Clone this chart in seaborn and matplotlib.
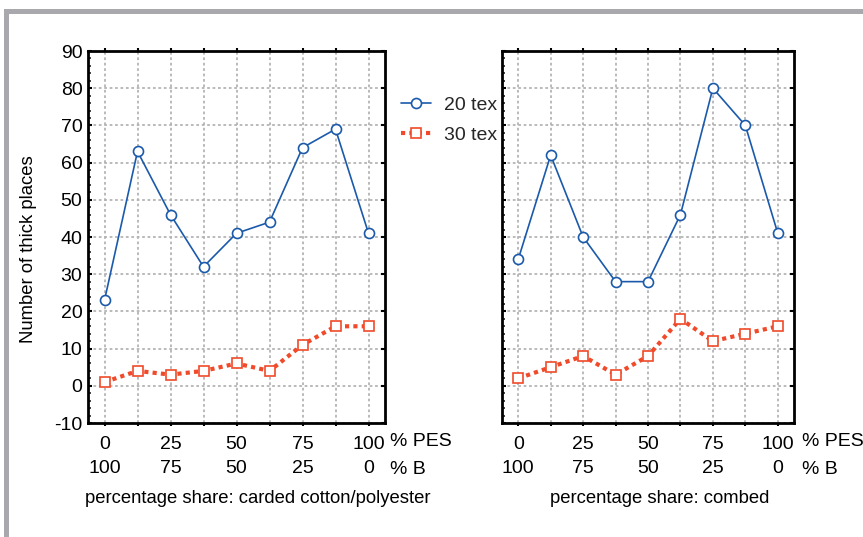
import matplotlib
matplotlib.use("Agg")
import matplotlib.pyplot as plt
import seaborn as sns
import numpy as np
from matplotlib.patches import Rectangle
from matplotlib.ticker import MultipleLocator

sns.set_theme(style="white")
plt.rcParams['font.family'] = ['Liberation Sans', 'DejaVu Sans']
plt.rcParams['axes.unicode_minus'] = False

# ---- data ----
positions = [0, 1, 2, 3, 4, 5, 6, 7, 8]
pes_labels = ["0", "", "25", "", "50", "", "75", "", "100"]
b_labels = ["100", "", "75", "", "50", "", "25", "", "0"]
carded_20tex = [23, 63, 46, 32, 41, 44, 64, 69, 41]
carded_30tex = [1, 4, 3, 4, 6, 4, 11, 16, 16]
combed_20tex = [34, 62, 40, 28, 28, 46, 80, 70, 41]
combed_30tex = [2, 5, 8, 3, 8, 18, 12, 14, 16]
series_names = ["20 tex", "30 tex"]
panel_titles = ["percentage share: carded cotton/polyester", "percentage share: combed"]

BLUE = "#1b5aab"
RED = "#f04a2a"
GRID = "#b4b4b4"

W, H = 863, 537
fig = plt.figure(figsize=(W / 100, H / 100), dpi=100)

def fx(px):
    return px / W

def fy(py):
    return 1 - py / H

ax1 = fig.add_axes([fx(88), fy(423), fx(385 - 88), (423 - 51) / H])
ax2 = fig.add_axes([fx(502), fy(423), fx(794 - 502), (423 - 51) / H])

TFS = 14
LFS = 13.3

for ax, s20, s30, title, xlab_x, unit_x in [
    (ax1, carded_20tex, carded_30tex, panel_titles[0], 0.572, 8.66),
    (ax2, combed_20tex, combed_30tex, panel_titles[1], 0.541, 8.75),
]:
    sns.lineplot(x=positions, y=s20, ax=ax, color=BLUE, lw=1.2, marker="o",
                 markersize=7.2, markerfacecolor="white", markeredgecolor=BLUE,
                 markeredgewidth=1.2, label=series_names[0], legend=False, zorder=4)
    sns.lineplot(x=positions, y=s30, ax=ax, color=RED, lw=3.0, linestyle=(0, (1, 1)),
                 marker="s", markersize=7.0, markerfacecolor="white", markeredgecolor=RED,
                 markeredgewidth=1.2, label=series_names[1], legend=False, zorder=4)
    for ln in ax.get_lines():
        ln.set_dash_capstyle("butt")
    ax.set_xlim(-0.5, 8.5)
    ax.set_ylim(-10, 90)
    ax.yaxis.set_major_locator(MultipleLocator(10))
    ax.yaxis.set_minor_locator(MultipleLocator(2))
    ax.set_xticks(positions)
    ax.set_xticklabels([f"{a}\n{b}" for a, b in zip(pes_labels, b_labels)],
                       linespacing=1.55)
    ax.grid(True, which="major", color=GRID, linestyle=(0, (1.5, 1.5)), lw=1.3)
    ax.set_axisbelow(True)
    for sp in ax.spines.values():
        sp.set_visible(True)
        sp.set_color("black")
        sp.set_linewidth(2.0)
    ax.tick_params(axis="x", which="major", direction="out", length=2.5, width=1.5,
                   top=True, bottom=True, labelsize=TFS, pad=7, colors="black")
    ax.tick_params(axis="y", which="major", direction="in", length=3, width=1.5,
                   left=True, right=True, labelsize=TFS, pad=4, colors="black")
    ax.tick_params(axis="y", which="minor", direction="in", length=2, width=1.2,
                   left=True, right=False)
    ax.set_xlabel(title, fontsize=LFS, color="black")
    ax.xaxis.set_label_coords(xlab_x, -0.18)
    ax.text(unit_x, -0.051, "% PES", transform=ax.get_xaxis_transform(),
            fontsize=TFS, ha="left", va="center", color="black")
    ax.text(unit_x, -0.124, "% B", transform=ax.get_xaxis_transform(),
            fontsize=TFS, ha="left", va="center", color="black")
    ax.set_facecolor("white")

ax2.tick_params(axis="y", labelleft=False)
ax1.set_ylabel("Number of thick places", fontsize=LFS, color="black")
ax1.yaxis.label.set_va("center")
ax1.yaxis.set_label_coords(-0.199, 0.468)

handles, labels = ax1.get_legend_handles_labels()
fig.legend(handles, labels, loc="upper left", bbox_to_anchor=(fx(401), fy(96)),
           frameon=False, fontsize=TFS, handlelength=1.55, handletextpad=0.67,
           labelspacing=0.66, borderpad=0, borderaxespad=0)

# gray frame
frame_col = "#a9a9ad"
fig.add_artist(Rectangle((fx(4), fy(14)), 1 - fx(4), 5 / H, transform=fig.transFigure,
                         facecolor=frame_col, edgecolor="none"))
fig.add_artist(Rectangle((fx(4), 0), 5.3 / W, fy(9.3), transform=fig.transFigure,
                         facecolor=frame_col, edgecolor="none"))

fig.savefig("out.png", dpi=100, facecolor="white")
